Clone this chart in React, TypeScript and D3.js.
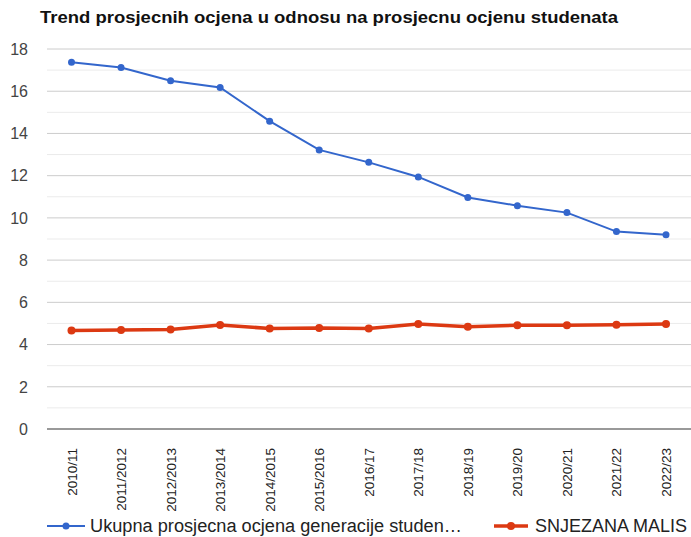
import React from "react";
import * as d3 from "d3";

const categories = [
  "2010/11", "2011/2012", "2012/2013", "2013/2014", "2014/2015", "2015/2016",
  "2016/17", "2017/18", "2018/19", "2019/20", "2020/21", "2021/22", "2022/23",
];
const overallAvg = [17.37, 17.12, 16.5, 16.18, 14.58, 13.22, 12.63, 11.94, 10.97, 10.58, 10.25, 9.35, 9.2];
const studentAvg = [4.66, 4.69, 4.71, 4.93, 4.76, 4.79, 4.76, 4.97, 4.84, 4.91, 4.91, 4.94, 4.97];
const yTicks = [0, 2, 4, 6, 8, 10, 12, 14, 16, 18];
const yMinorTicks = [1, 3, 5, 7, 9, 11, 13, 15, 17];
const seriesNames = ["Ukupna prosjecna ocjena generacije studen…", "SNJEZANA MALIS"];
const title = "Trend prosjecnih ocjena u odnosu na prosjecnu ocjenu studenata";

const W = 691;
const H = 537;
const font = "Arial, 'Liberation Sans', sans-serif";

export default function App() {
  const x = d3.scalePoint<string>().domain(categories).range([71.5, 666]);
  const y = d3.scaleLinear().domain([0, 18]).range([429, 49]);
  const left = 47;
  const right = 691;

  const line = d3
    .line<number>()
    .x((_, i) => x(categories[i]) as number)
    .y((d) => y(d));

  return (
    <svg
      width={W}
      height={H}
      style={{ position: "absolute", left: 0, top: 0, background: "#fff" }}
      fontFamily={font}
    >
      <text
        x={40}
        y={23}
        fontSize={16}
        fontWeight="bold"
        fill="#111"
        textLength={578}
        lengthAdjust="spacingAndGlyphs"
      >
        {title}
      </text>

      {yMinorTicks.map((t) => (
        <line key={"m" + t} x1={left} x2={right} y1={y(t)} y2={y(t)} stroke="#ebebeb" strokeWidth={1} />
      ))}
      {yTicks.map((t) => (
        <line
          key={"g" + t}
          x1={left}
          x2={right}
          y1={y(t)}
          y2={y(t)}
          stroke={t === 0 ? "#777" : "#cccccc"}
          strokeWidth={t === 0 ? 1.5 : 1}
        />
      ))}
      {yTicks.map((t) => (
        <text key={"t" + t} x={28} y={y(t)} dy="0.36em" textAnchor="end" fontSize={16} fill="#444">
          {t}
        </text>
      ))}

      {categories.map((c) => (
        <text
          key={c}
          transform={`translate(${(x(c) as number) + 5},448) rotate(-90)`}
          textAnchor="end"
          fontSize={13.5}
          fill="#222"
        >
          {c}
        </text>
      ))}

      <path d={line(overallAvg) || ""} fill="none" stroke="#3366cc" strokeWidth={2} />
      {overallAvg.map((v, i) => (
        <circle key={"b" + i} cx={x(categories[i]) as number} cy={y(v)} r={3.5} fill="#3366cc" />
      ))}
      <path d={line(studentAvg) || ""} fill="none" stroke="#dc3912" strokeWidth={3.5} />
      {studentAvg.map((v, i) => (
        <circle key={"r" + i} cx={x(categories[i]) as number} cy={y(v)} r={4} fill="#dc3912" />
      ))}

      <g>
        <line x1={47} x2={85} y1={526} y2={526} stroke="#3366cc" strokeWidth={2} />
        <circle cx={66} cy={526} r={3.5} fill="#3366cc" />
        <text x={90} y={526} dy="0.36em" fontSize={18} fill="#222" textLength={372} lengthAdjust="spacingAndGlyphs">
          {seriesNames[0]}
        </text>
        <line x1={494} x2={528} y1={526} y2={526} stroke="#dc3912" strokeWidth={3.5} />
        <circle cx={511} cy={526} r={4} fill="#dc3912" />
        <text x={535} y={526} dy="0.36em" fontSize={18} fill="#222">
          {seriesNames[1]}
        </text>
      </g>
    </svg>
  );
}
